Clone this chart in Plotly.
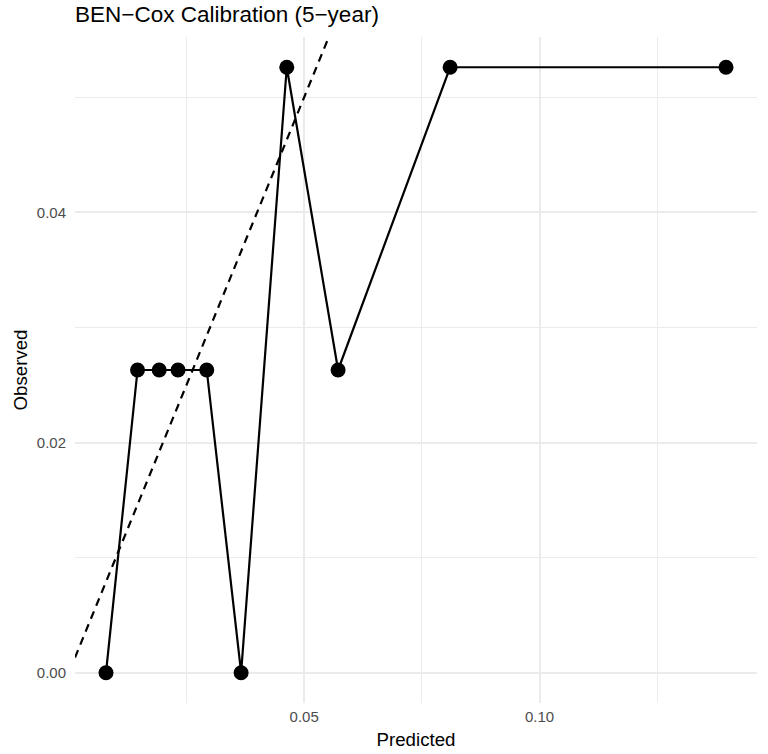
import plotly.graph_objects as go

# Data
predicted = [0.0079, 0.0146, 0.0192, 0.0232, 0.0293, 0.0366, 0.0463, 0.0572, 0.0810, 0.1396]
observed = [0.0, 0.0263, 0.0263, 0.0263, 0.0263, 0.0, 0.0526, 0.0263, 0.0526, 0.0526]
x_tick_vals = [0.05, 0.10]
x_tick_text = ["0.05", "0.10"]
y_tick_vals = [0.00, 0.02, 0.04]
y_tick_text = ["0.00", "0.02", "0.04"]
title_text = "BEN\u2212Cox Calibration (5\u2212year)"


def expand(vals, mult=0.05):
    lo, hi = min(vals), max(vals)
    span = hi - lo
    return [lo - mult * span, hi + mult * span]


xr = expand(predicted)
yr = expand(observed)

FONT = "Liberation Sans, Arial, sans-serif"
GRID = "#EBEBEB"
TICKCOL = "#4D4D4D"

fig = go.Figure()

# Reference line y = x, clipped to the panel
line_lo = max(xr[0], yr[0])
line_hi = min(xr[1], yr[1])
fig.add_trace(go.Scatter(
    x=[line_lo, line_hi], y=[line_lo, line_hi], mode="lines",
    line=dict(color="black", width=2.2, dash="8px,6px"),
    hoverinfo="skip", showlegend=False, cliponaxis=True,
))

fig.add_trace(go.Scatter(
    x=predicted, y=observed, mode="lines+markers",
    line=dict(color="black", width=2.2),
    marker=dict(color="black", size=15),
    showlegend=False,
))

fig.update_layout(
    width=768, height=754,
    margin=dict(l=75, r=11, t=37, b=51),
    paper_bgcolor="white", plot_bgcolor="white",
    font=dict(family=FONT, color="black"),
    title=dict(text=title_text, x=0, xref="paper", xanchor="left",
               y=1 - 14 / 754, yref="container", yanchor="middle",
               font=dict(size=22.5, color="black", family=FONT)),
)

fig.update_xaxes(
    range=xr, tickvals=x_tick_vals, ticktext=x_tick_text,
    showgrid=True, gridcolor=GRID, gridwidth=1.8,
    minor=dict(tick0=0, dtick=0.025, showgrid=True, gridcolor=GRID, gridwidth=1.0),
    zeroline=False, showline=False, ticks="",
    ticklabelstandoff=3,
    tickfont=dict(size=15, color=TICKCOL, family=FONT),
    title=dict(text="Predicted", font=dict(size=18.7, color="black", family=FONT), standoff=8),
    automargin=False,
)
fig.update_yaxes(
    range=yr, tickvals=y_tick_vals, ticktext=y_tick_text,
    showgrid=True, gridcolor=GRID, gridwidth=1.8,
    minor=dict(tick0=0, dtick=0.01, showgrid=True, gridcolor=GRID, gridwidth=1.0),
    zeroline=False, showline=False, ticks="",
    ticklabelstandoff=8,
    tickfont=dict(size=15, color=TICKCOL, family=FONT),
    title=dict(text="Observed", font=dict(size=18.7, color="black", family=FONT), standoff=4),
    automargin=False,
)

fig.write_html("out.html")
